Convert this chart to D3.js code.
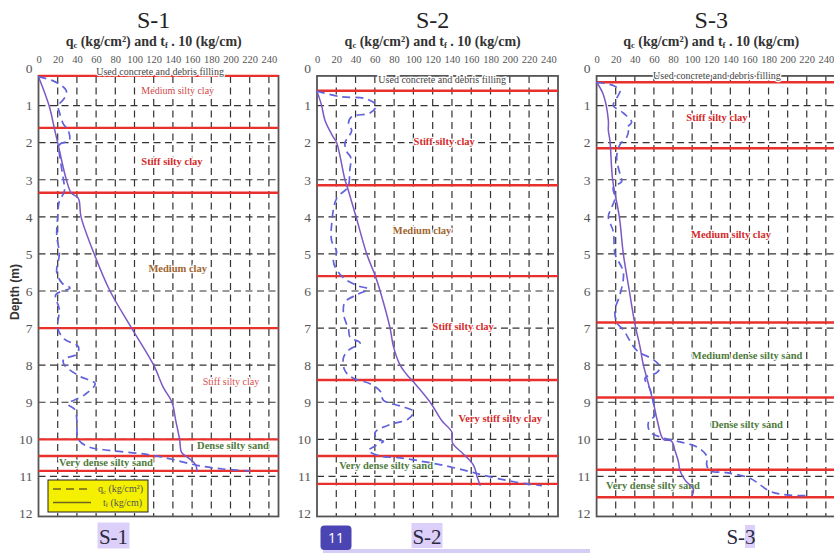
<!DOCTYPE html>
<html><head><meta charset="utf-8">
<script src="https://cdn.jsdelivr.net/npm/d3@7/dist/d3.min.js"></script>
<style>body{margin:0;background:#fff}svg{display:block}</style>
</head><body>
<svg id="c" width="834" height="553"></svg>
<script>
// ---------------- DATA ----------------
const panelNames = ["S-1", "S-2", "S-3"];
const xTickValues = [0, 20, 40, 60, 80, 100, 120, 140, 160, 180, 200, 220, 240];
const depthTickValues = [0, 1, 2, 3, 4, 5, 6, 7, 8, 9, 10, 11, 12];

// layer boundaries (depth, m)
const boundariesS1 = [0.2, 1.6, 3.35, 7.0, 10.0, 10.45, 10.85];
const boundariesS2 = [0.6, 3.15, 5.6, 8.4, 10.45, 11.2];
const boundariesS3 = [0.37, 2.15, 6.85, 8.87, 10.82, 11.56];

// qc (kg/cm2) : [value, depth]
const qcS1 = [[0,0.22],[14,0.32],[24,0.46],[29,0.6],[27,0.8],[20.6,1.0],[22,1.2],[26,1.5],[31,1.67],[32,1.94],[22,2.05],[23,2.5],[26,3.0],[27,3.3],[21.5,3.6],[20,4.0],[19,4.5],[21.7,5.0],[19,5.5],[25,5.8],[32.8,5.92],[18,6.1],[21.7,6.5],[20,7.0],[27,7.3],[41.5,7.5],[40,7.7],[26,7.85],[27,8.0],[43,8.3],[59,8.5],[48,8.8],[31,9.05],[38,9.2],[40,9.5],[41.5,10.0],[52,10.2],[74,10.3],[105,10.38],[123,10.45],[141,10.55],[165,10.7],[192,10.8],[220,10.85]];
const qcS2 = [[0,0.61],[24,0.76],[51.6,0.82],[61.4,1.0],[55,1.2],[36,1.3],[32.6,1.5],[36,1.67],[32.6,1.85],[29,2.0],[31,2.25],[35,2.4],[34,2.75],[32,3.2],[20.4,3.5],[15.2,4.2],[15.2,4.65],[20.4,4.95],[17,5.2],[25.6,5.6],[41.2,5.85],[53.3,5.95],[41.2,6.1],[29,6.3],[27.4,6.6],[30.8,6.9],[32.6,7.0],[34.3,7.25],[44.7,7.4],[32.6,7.6],[27.4,7.8],[29,8.15],[37.7,8.35],[55,8.5],[65.5,8.7],[69,8.95],[86.2,9.1],[100,9.25],[94.8,9.45],[76,9.6],[60.6,9.8],[62,10.0],[69,10.05],[58.9,10.2],[53.3,10.3],[65.5,10.45],[86.2,10.5],[110.4,10.6],[131,10.7],[155.5,10.85],[177.7,11.0],[205.5,11.15],[233.3,11.25]];
const qcS3 = [[0,0.37],[17.5,0.46],[24.5,0.6],[21,0.8],[17.5,1.0],[28,1.2],[36.7,1.45],[31.5,1.6],[33.2,1.67],[31.5,1.85],[24.5,2.05],[21,2.4],[24.5,2.85],[26.2,3.05],[17.5,3.2],[19.3,3.5],[15.7,3.75],[12.3,4.0],[17.5,4.4],[19.3,5.0],[28,5.5],[24.5,6.1],[19.3,6.5],[21,6.85],[28,7.05],[42,7.6],[59.4,7.85],[66.4,8.05],[63,8.2],[50.7,8.35],[56,8.65],[59.4,9.0],[61,9.35],[54.2,9.55],[56,9.8],[68,9.95],[87.3,10.07],[104.7,10.2],[115.3,10.45],[115.3,10.7],[118.8,10.85],[136.2,10.9],[160.6,11.05],[181.5,11.4],[199,11.5],[221.7,11.52]];

// tf x 10 (kg/cm) : [value, depth]
const tfS1 = [[0,0.22],[11,1.0],[17,1.67],[20,2.0],[29,3.0],[34,3.35],[41.5,3.5],[44.3,4.0],[58,5.0],[74.5,6.0],[97,7.0],[120,8.0],[130,8.6],[139,9.0],[143,9.5],[147,10.0],[149,10.35],[156,10.5],[161,10.6],[164,10.7],[165,10.87]];
const tfS2 = [[0,0.61],[4.8,1.0],[8.3,1.4],[16.9,1.85],[20.4,2.0],[29,3.0],[31.5,3.2],[40.5,4.0],[51.6,5.0],[60.6,5.6],[65.5,6.0],[75.8,7.0],[79.3,7.5],[86.2,8.0],[93,8.25],[100,8.45],[117.4,9.0],[129.5,9.5],[139.9,9.8],[140.6,10.1],[152,10.4],[162.4,10.7],[166,11.0],[169.4,11.25]];
const tfS3 = [[0,0.37],[7,0.7],[12.3,1.4],[12.3,1.67],[14,1.95],[16.8,3.0],[23.8,4.0],[28,5.0],[34.3,6.0],[39.8,6.85],[45.4,7.5],[49,8.0],[54.2,8.5],[59.4,9.0],[63.6,9.5],[69.9,10.0],[78.6,10.05],[82,10.3],[85.6,10.6],[87.3,10.85],[92.6,11.1],[101.3,11.35],[99.6,11.55]];

// layer labels: [text, value-axis centre, depth, kind]
const layersS1 = [["Used concrete and debris filling",126.6,0.09,"fill"],["Medium silty clay",145,0.58,"clayLight"],["Stiff silty clay",139,2.49,"clay"],["Medium clay",145,5.38,"brown"],["Stiff silty clay",200.5,8.45,"clayThin"],["Dense silty sand",202.6,10.17,"sand"],["Very dense silty sand",70.3,10.62,"sand"]];
const layersS2 = [["Used concrete and debris filling",129.9,0.29,"fill"],["Stiff silty clay",132,1.97,"clay"],["Medium clay",109,4.36,"brown"],["Stiff silty clay",151.7,6.96,"clay"],["Very stiff silty clay",190.1,9.43,"clay"],["Very dense silty sand",71.7,10.71,"sand"]];
const layersS3 = [["Used concrete and debris filling",126,0.18,"fill"],["Stiff silty clay",126,1.33,"clay"],["Medium silty clay",140.7,4.46,"clay"],["Medium dense silty sand",157.5,7.73,"sand"],["Dense silty sand",157.5,9.6,"sand"],["Very dense silty sand",59,11.25,"sand"]];

const legendLabels = [["q","c"," (kg/cm²)"],["t","f"," (kg/cm)"]];

// ---------------- DRAWING ----------------
const svg = d3.select("#c");
const serif = "'Liberation Serif','DejaVu Serif',serif";
const kindStyle = {
  fill:{color:"#444",weight:"normal",size:10},
  clay:{color:"#d42a2a",weight:"bold",size:10.5},
  clayLight:{color:"#d04848",weight:"normal",size:10},
  clayThin:{color:"#d65050",weight:"normal",size:10},
  brown:{color:"#a0642e",weight:"bold",size:10.5},
  sand:{color:"#4f7b3c",weight:"bold",size:10.5}
};
const panels = [
  {name:panelNames[0], left:38.5, right:278.5, bounds:boundariesS1, qc:qcS1, tf:tfS1, layers:layersS1},
  {name:panelNames[1], left:317, right:558, bounds:boundariesS2, qc:qcS2, tf:tfS2, layers:layersS2},
  {name:panelNames[2], left:596.6, right:835.4, bounds:boundariesS3, qc:qcS3, tf:tfS3, layers:layersS3}
];
const y = d3.scaleLinear().domain([0,12]).range([68.5,513.5]);
const frameTop = 0.2, frameBottom = 12.08;

panels.forEach((p,i)=>{
  const x = d3.scaleLinear().domain([0,250]).range([p.left,p.right]);
  const g = svg.append("g");
  const cx = x(120);

  // title
  g.append("text").attr("x",cx).attr("y",28).attr("text-anchor","middle")
    .attr("font-family",serif).attr("font-size",24).attr("fill","#222").text(p.name);
  const sub = g.append("text").attr("x",cx).attr("y",45.5).attr("text-anchor","middle")
    .attr("font-family",serif).attr("font-size",14).attr("font-weight","bold").attr("fill","#333");
  sub.append("tspan").text("q");
  sub.append("tspan").attr("font-size",8.5).attr("dy",2).text("c");
  sub.append("tspan").attr("dy",-2).text(" (kg/cm²) and t");
  sub.append("tspan").attr("font-size",8.5).attr("dy",2).text("f");
  sub.append("tspan").attr("dy",-2).text(" . 10 (kg/cm)");

  // top axis
  const top = g.append("g").attr("transform",`translate(0,${y(frameTop)})`)
    .call(d3.axisTop(x).tickValues(xTickValues).tickSize(0).tickPadding(13));
  top.select(".domain").remove();
  top.selectAll("text").attr("font-family",serif).attr("font-size",10.5).attr("fill","#555");

  // left axis
  const left = g.append("g").attr("transform",`translate(${p.left},0)`)
    .call(d3.axisLeft(y).tickValues(depthTickValues).tickSize(0).tickPadding(6));
  left.select(".domain").remove();
  left.selectAll("text").attr("font-family",serif).attr("font-size",13.5).attr("fill","#555");

  // grid
  const grid = g.append("g").attr("stroke","#333").attr("stroke-width",1.2).attr("stroke-dasharray","7,4.5");
  grid.selectAll("line.v").data(xTickValues.filter(v=>v>0)).join("line")
    .attr("x1",d=>x(d)).attr("x2",d=>x(d)).attr("y1",y(frameTop)).attr("y2",y(frameBottom));
  grid.selectAll("line.h").data(depthTickValues.filter(d=>d>0&&d<12)).join("line")
    .attr("x1",p.left).attr("x2",p.right).attr("y1",d=>y(d)).attr("y2",d=>y(d));

  // frame
  g.append("rect").attr("x",p.left).attr("y",y(frameTop)).attr("width",p.right-p.left)
    .attr("height",y(frameBottom)-y(frameTop)).attr("fill","none").attr("stroke","#555").attr("stroke-width",1.8);

  // boundaries
  g.selectAll("line.b").data(p.bounds).join("line")
    .attr("x1",p.left).attr("x2",p.right).attr("y1",d=>y(d)).attr("y2",d=>y(d))
    .attr("stroke","#e8302c").attr("stroke-width",2.4);

  // layer labels
  g.selectAll("text.l").data(p.layers).join("text")
    .attr("x",d=>x(d[1])).attr("y",d=>y(d[2])).attr("dy","0.35em").attr("text-anchor","middle")
    .attr("font-family",serif).attr("font-size",d=>kindStyle[d[3]].size)
    .attr("font-weight",d=>kindStyle[d[3]].weight).attr("fill",d=>kindStyle[d[3]].color)
    .attr("stroke","#fff").attr("stroke-width",2.5).attr("paint-order","stroke")
    .text(d=>d[0]);

  // curves
  const line = d3.line().x(d=>x(d[0])).y(d=>y(d[1])).curve(d3.curveCatmullRom.alpha(0.5));
  g.append("path").datum(p.tf).attr("d",line).attr("fill","none")
    .attr("stroke","#7b58c4").attr("stroke-width",1.5);
  g.append("path").datum(p.qc).attr("d",line).attr("fill","none")
    .attr("stroke","#6262dc").attr("stroke-width",1.7).attr("stroke-dasharray","8,5");
});

// y axis title
svg.append("text").attr("transform","translate(19,292) rotate(-90)").attr("text-anchor","middle")
  .attr("font-family","'Liberation Sans',Arial,sans-serif").attr("font-weight","bold").attr("font-size",12)
  .attr("fill","#333").text("Depth (m)");

// legend (S-1)
const lg = svg.append("g");
lg.append("rect").attr("x",48).attr("y",480).attr("width",100).attr("height",32)
  .attr("fill","#f4f000").attr("stroke","#222").attr("stroke-width",1);
legendLabels.forEach((l,i)=>{
  const yy = 489 + i*13.5;
  lg.append("line").attr("x1",53).attr("x2",91).attr("y1",yy).attr("y2",yy)
    .attr("stroke","#6b6420").attr("stroke-width",1.5).attr("stroke-dasharray",i===0?"8,5":null);
  const t = lg.append("text").attr("x",i===0?98:103).attr("y",yy+3).attr("font-family",serif)
    .attr("font-size",10).attr("fill","#555");
  t.append("tspan").text(l[0]);
  t.append("tspan").attr("font-size",6.5).attr("dy",1.5).text(l[1]);
  t.append("tspan").attr("dy",-1.5).text(l[2]);
});

// slide decorations under the panels
const deco = svg.append("g");
deco.append("rect").attr("x",323).attr("y",549).attr("width",267).attr("height",4).attr("fill","#d6cdf6");
deco.append("rect").attr("x",97.5).attr("y",522.5).attr("width",32).attr("height",26).attr("fill","#dccff9");
deco.append("text").attr("x",113.5).attr("y",544).attr("text-anchor","middle").attr("font-family",serif)
  .attr("font-size",21).attr("fill","#2a2a40").text(panelNames[0]);
deco.append("rect").attr("x",411.5).attr("y",523).attr("width",31).attr("height",25).attr("fill","#dccff9");
deco.append("text").attr("x",427).attr("y",544).attr("text-anchor","middle").attr("font-family",serif)
  .attr("font-size",21).attr("fill","#2a2a40").text(panelNames[1]);
deco.append("rect").attr("x",745).attr("y",525).attr("width",10).attr("height",23).attr("fill","#dccff9");
deco.append("text").attr("x",741).attr("y",544).attr("text-anchor","middle").attr("font-family",serif)
  .attr("font-size",21).attr("fill","#2a2a40").text(panelNames[2]);
deco.append("rect").attr("x",320.5).attr("y",525.5).attr("width",31).attr("height",24.5).attr("rx",4)
  .attr("fill","#4b45b3");
deco.append("text").attr("x",336).attr("y",543).attr("text-anchor","middle")
  .attr("font-family","'Open Sans','Liberation Sans',sans-serif").attr("font-size",14).attr("fill","#fff").text("11");
</script>
</body></html>
